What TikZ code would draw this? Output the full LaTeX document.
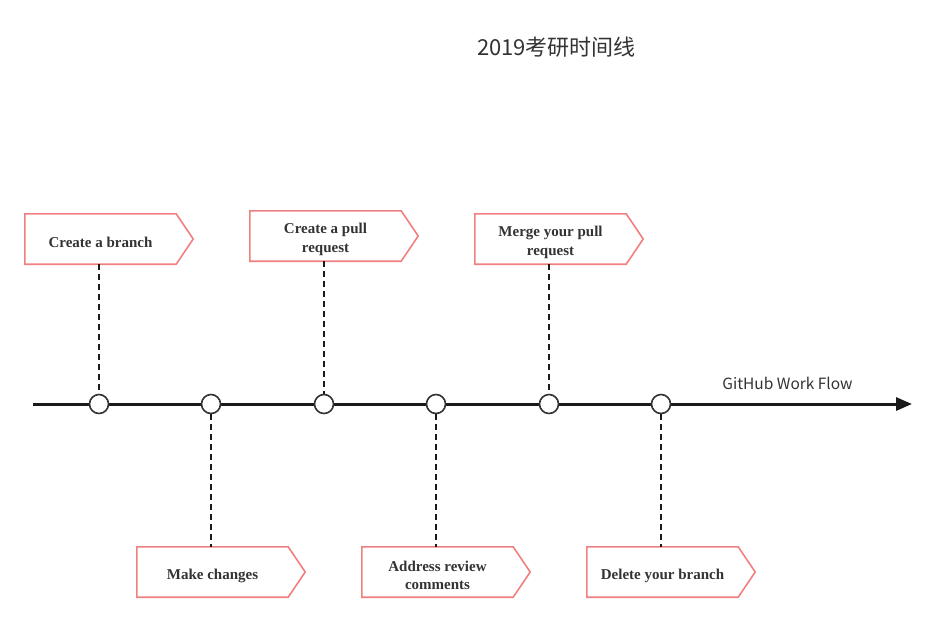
\documentclass[tikz,border=0pt]{standalone}
\usepackage{fontspec}
\setmainfont{Liberation Serif}
\newfontfamily\cjkfont{Noto Sans CJK SC}
\usetikzlibrary{arrows.meta,calc}
\definecolor{boxred}{RGB}{240,128,128}
\definecolor{txt}{RGB}{51,51,51}
\definecolor{axis}{RGB}{26,26,26}
\tikzset{
  flagbox/.style={rectangle, minimum width=151pt, minimum height=50pt, inner sep=0pt},
  flagtext/.style={align=center, inner sep=0pt, yshift=-3.5pt,
    font=\fontsize{15}{18.5}\selectfont\bfseries, text=txt},
  flagline/.style={draw=boxred, line width=1.6pt, line join=miter},
  dot/.style={circle, draw=txt, line width=1.6pt, fill=white, minimum size=19pt, inner sep=0pt},
  stem/.style={draw=axis, line width=1.5pt, dash pattern=on 6pt off 4pt},
  axisline/.style={draw=axis, line width=3pt, -{Triangle[length=16pt,width=13pt]}},
}
\newcommand\flagoutline[1]{%
  \draw[flagline] (#1.north west) -- (#1.north east) -- ($(#1.east)+(17pt,0)$) -- (#1.south east) -- (#1.south west) -- cycle;}
\begin{document}
\begin{tikzpicture}[x=1pt,y=-1pt]
\useasboundingbox (0,0) rectangle (931,622);
\node[font=\cjkfont\fontsize{22}{26}\selectfont, text=txt] (title) at (556.5,47) {2019考研时间线};
% axis
\coordinate (start) at (33,404);
\coordinate (end) at (912,404);
\draw[axisline] (start) -- (end);
\node[font=\cjkfont\fontsize{15.5}{18}\selectfont, text=txt] (axlabel) at (787.5,383) {GitHub Work Flow};
% boxes
\node[flagbox] (b1) at (100.5,239) {};
\node[flagbox] (b2) at (325.5,236) {};
\node[flagbox] (b3) at (550.5,239) {};
\node[flagbox] (b4) at (212.5,572) {};
\node[flagbox] (b5) at (437.5,572) {};
\node[flagbox] (b6) at (662.5,572) {};
\flagoutline{b1}\flagoutline{b2}\flagoutline{b3}\flagoutline{b4}\flagoutline{b5}\flagoutline{b6}
\node[flagtext] (t1) at (b1) {Create a branch};
\node[flagtext] (t2) at (b2) {Create a pull\\request};
\node[flagtext] (t3) at (b3) {Merge your pull\\request};
\node[flagtext] (t4) at (b4) {Make changes};
\node[flagtext] (t5) at (b5) {Address review\\comments};
\node[flagtext] (t6) at (b6) {Delete your branch};
% dots
\node[dot] (c1) at (99,404) {};
\node[dot] (c2) at (211,404) {};
\node[dot] (c3) at (324,404) {};
\node[dot] (c4) at (436,404) {};
\node[dot] (c5) at (549,404) {};
\node[dot] (c6) at (661,404) {};
% stems
\draw[stem] (b1.south -| c1) -- (c1.north);
\draw[stem] (b2.south -| c3) -- (c3.north);
\draw[stem] (b3.south -| c5) -- (c5.north);
\draw[stem] (c2.south) -- (b4.north -| c2);
\draw[stem] (c4.south) -- (b5.north -| c4);
\draw[stem] (c6.south) -- (b6.north -| c6);
\end{tikzpicture}
\end{document}
